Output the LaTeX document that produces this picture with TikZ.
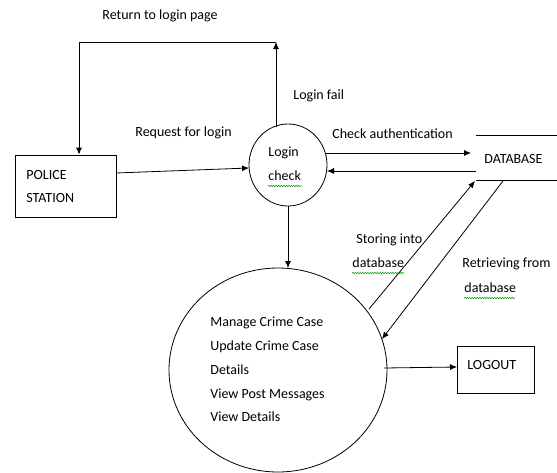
\documentclass[tikz,border=0pt]{standalone}
\usepackage{fontspec}
\setmainfont{Carlito}
\usetikzlibrary{arrows.meta,decorations.pathmorphing,shapes.geometric}
\begin{document}
\begin{tikzpicture}[x=1pt,y=-1pt,
  line width=0.8pt,
  every node/.style={font=\fontsize{14}{16}\selectfont},
  lbl/.style={anchor=west,inner sep=0pt},
  flow/.style={-{Latex[length=7pt,width=6pt]}},
  squig/.style={draw=green!60!black,line width=0.5pt,decorate,
    decoration={snake,amplitude=0.7pt,segment length=2.5pt}}]
\useasboundingbox (0,0) rectangle (557,472);

% external entities and processes
\node[draw,minimum width=101pt,minimum height=62pt,inner sep=0pt] (police) at (65.5,186) {};
\node[lbl] at (26,175) {POLICE};
\node[lbl] at (26,198) {STATION};

\node[draw,ellipse,minimum width=78pt,minimum height=82pt,inner sep=0pt] (login) at (288,165) {};
\node[lbl] at (268,153) {Login};
\node[lbl] (chk) at (268,176) {check};

\node[draw,ellipse,minimum width=218pt,minimum height=204pt,inner sep=0pt] (main) at (278,370) {};
\node[lbl] at (210,323) {Manage Crime Case};
\node[lbl] at (210,347) {Update Crime Case};
\node[lbl] at (210,370) {Details};
\node[lbl] at (210,395) {View Post Messages};
\node[lbl] at (210,417) {View Details};

\node[draw,minimum width=77pt,minimum height=47pt,inner sep=0pt] (logout) at (495.5,369.5) {};
\node[lbl] at (467,365) {LOGOUT};

% data store (open-ended)
\coordinate (dbTL) at (476,135);
\coordinate (dbBL) at (476,180);
\draw (dbTL) -- (557,135);
\draw (dbBL) -- (557,180);
\node[lbl] (db) at (484,159) {DATABASE};

% return path for a failed login
\coordinate (failTop) at (276,42);
\coordinate (retCorner) at (79,42);
\draw[flow] (276,127) -- (failTop);
\draw[flow] (failTop) -- (retCorner) -- (police.north -| retCorner);
\node[lbl] at (102,16) {Return to login page};
\node[lbl] at (293,96) {Login fail};

% request and authentication
\draw[flow] (116,173) -- (249,168);
\node[lbl] at (135,133) {Request for login};

\coordinate (authOut) at (471,153);
\coordinate (authIn) at (476,171);
\draw[flow] (326,153) -- (authOut);
\draw[flow] (authIn) -- (327,171);
\node[lbl] at (332,134) {Check authentication};

% into the main process
\draw[flow] (login.south) -- (288,268);

% storing / retrieving
\coordinate (storeFrom) at (369,309);
\coordinate (storeTo) at (475,181);
\coordinate (retrFrom) at (503,181);
\coordinate (retrTo) at (382,339);
\draw[flow] (storeFrom) -- (storeTo);
\draw[flow] (retrFrom) -- (retrTo);
\node[lbl] at (356,240) {Storing into};
\node[lbl] (st) at (352,263) {database};
\node[lbl] at (462,264) {Retrieving from};
\node[lbl] (rt) at (464,288) {database};

% to logout
\draw[flow] (384,368) -- (457,367);

% spell-check underlines
\draw[squig] (268,186) -- (302,186);
\draw[squig] (352,273) -- (404,273);
\draw[squig] (464,298) -- (515,298);
\end{tikzpicture}
\end{document}
